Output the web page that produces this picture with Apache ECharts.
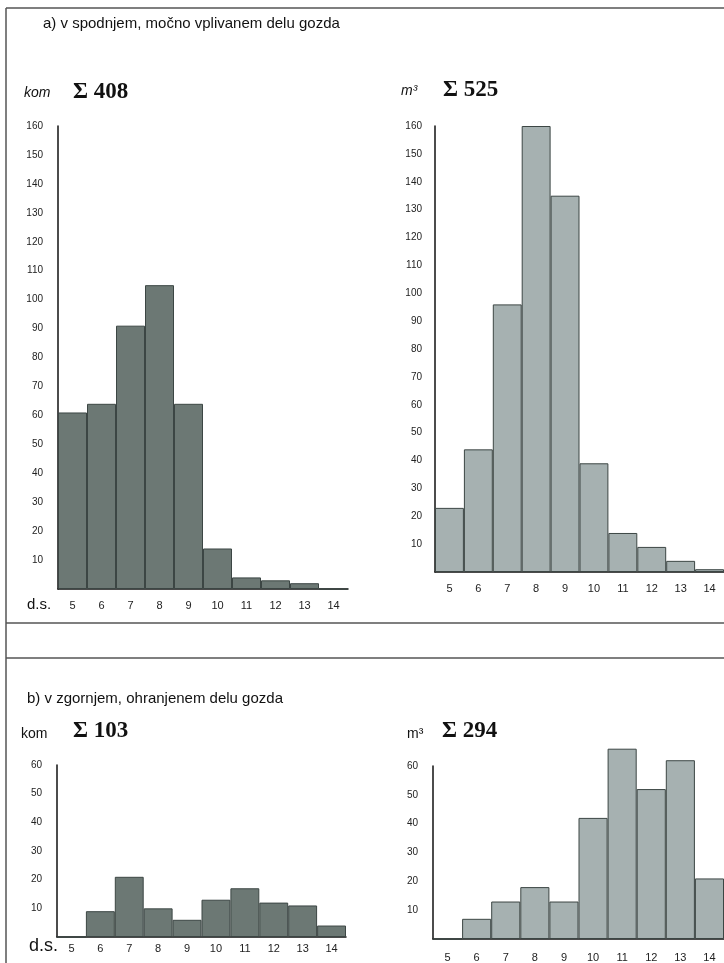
<!DOCTYPE html>
<html>
<head>
<meta charset="utf-8">
<script src="https://cdn.jsdelivr.net/npm/echarts@6/dist/echarts.min.js"></script>
<style>
  html, body { margin: 0; padding: 0; background: #fff; }
  #chart { width: 724px; height: 963px; }
</style>
</head>
<body>
<div id="chart"></div>
<script>
// debelinske stopnje (d.s.)
const categories = ['5', '6', '7', '8', '9', '10', '11', '12', '13', '14'];

// a) spodnji, močno vplivani del gozda
const komA = [61, 64, 91, 105, 64, 14, 4, 3, 2, 0];
const m3A = [23, 44, 96, 160, 135, 39, 14, 9, 4, 1];
// b) zgornji, ohranjeni del gozda
const komB = [0, 9, 21, 10, 6, 13, 17, 12, 11, 4];
const m3B = [0, 7, 13, 18, 13, 42, 66, 52, 62, 21];

const yMaxA = 160;
const yMaxB = 60;
const yStep = 10;

const darkBar = '#6c7874';
const lightBar = '#a6b1b1';

const chart = echarts.init(document.getElementById('chart'));

const labelFont = { fontFamily: 'Liberation Sans', fontSize: 10, color: '#222' };

function yAxis(grid, max, margin) {
  return {
    type: 'value',
    gridIndex: grid,
    min: 0,
    max: max,
    interval: yStep,
    axisLine: { show: true, lineStyle: { color: '#111', width: 1.5 } },
    axisTick: { show: false },
    splitLine: { show: false },
    axisLabel: Object.assign({
      margin: margin,
      formatter: v => (v === 0 ? '' : v)
    }, labelFont)
  };
}

function xAxis(grid, margin) {
  return {
    type: 'category',
    gridIndex: grid,
    data: categories,
    axisLine: { show: true, lineStyle: { color: '#111', width: 1.5 } },
    axisTick: { show: false },
    axisLabel: Object.assign({ margin: margin, interval: 0 }, labelFont, { fontSize: 11 })
  };
}

function bars(grid, data, color) {
  return {
    type: 'bar',
    xAxisIndex: grid,
    yAxisIndex: grid,
    data: data,
    barCategoryGap: '0%',
    clip: false,
    silent: true,
    itemStyle: { color: color, borderColor: '#3c4644', borderWidth: 1 }
  };
}

function label(text, left, top, style) {
  return {
    text: text,
    left: left,
    top: top,
    padding: 0,
    textStyle: Object.assign({ fontFamily: 'Liberation Sans', fontSize: 15, fontWeight: 'normal', color: '#111' }, style)
  };
}

const sigma = { fontFamily: 'Liberation Serif', fontSize: 23, fontWeight: 'bold', color: '#111' };

chart.setOption({
  animation: false,
  backgroundColor: '#fff',
  title: [
    label('a) v spodnjem, močno vplivanem delu gozda', 43, 16),
    label('kom', 24, 86, { fontStyle: 'italic', fontSize: 14 }),
    label('Σ 408', 73, 81, sigma),
    label('m³', 401, 84, { fontStyle: 'italic', fontSize: 14 }),
    label('Σ 525', 443, 79, sigma),
    label('d.s.', 27, 597, { fontSize: 15 }),
    label('b) v zgornjem, ohranjenem delu gozda', 27, 691),
    label('kom', 21, 727, { fontSize: 14 }),
    label('Σ 103', 73, 720, sigma),
    label('m³', 407, 727, { fontSize: 14 }),
    label('Σ 294', 442, 720, sigma),
    label('d.s.', 29, 937, { fontSize: 18 })
  ],
  // okvir slike
  graphic: [
    { type: 'line', shape: { x1: 6, y1: 8, x2: 6, y2: 963 }, style: { stroke: '#555', lineWidth: 1.5 } },
    { type: 'line', shape: { x1: 6, y1: 8, x2: 724, y2: 8 }, style: { stroke: '#555', lineWidth: 1.5 } },
    { type: 'line', shape: { x1: 6, y1: 623, x2: 724, y2: 623 }, style: { stroke: '#555', lineWidth: 1.5 } },
    { type: 'line', shape: { x1: 6, y1: 658, x2: 724, y2: 658 }, style: { stroke: '#555', lineWidth: 1.5 } }
  ],
  grid: [
    { left: 58, top: 126, width: 290, height: 463 },
    { left: 435, top: 126, width: 290, height: 446 },
    { left: 57, top: 765, width: 289, height: 172 },
    { left: 433, top: 766, width: 291, height: 173 }
  ],
  xAxis: [xAxis(0, 11), xAxis(1, 11), xAxis(2, 6), xAxis(3, 13)],
  yAxis: [yAxis(0, yMaxA, 15), yAxis(1, yMaxA, 13), yAxis(2, yMaxB, 15), yAxis(3, yMaxB, 15)],
  series: [
    bars(0, komA, darkBar),
    bars(1, m3A, lightBar),
    bars(2, komB, darkBar),
    bars(3, m3B, lightBar)
  ]
});
</script>
</body>
</html>
